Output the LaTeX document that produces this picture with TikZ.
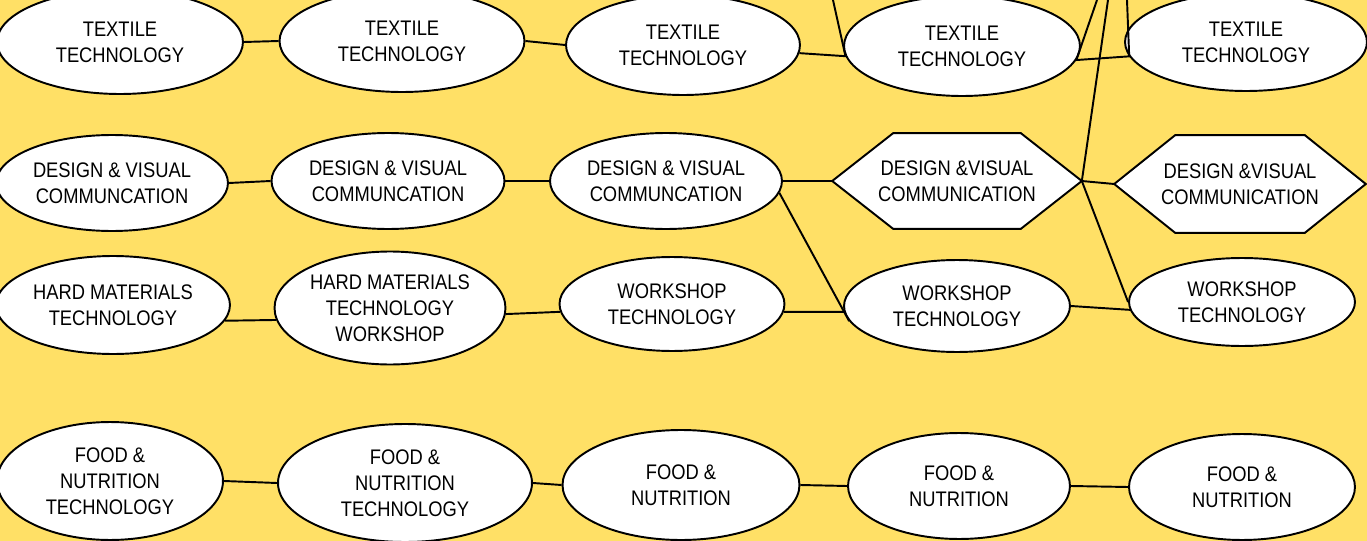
\documentclass[tikz,border=0pt]{standalone}
\usepackage{fontspec}
\setmainfont{Liberation Sans}[FakeStretch=0.87]
\usetikzlibrary{shapes.geometric}
\definecolor{pageyellow}{RGB}{255,224,102}
\pgfdeclarelayer{back}
\pgfsetlayers{back,main}

\begin{document}
\begin{tikzpicture}
	[x=0.02cm, y=-0.02cm,
	oval/.style={ellipse, draw=black, fill=white, line width=1.1pt, inner sep=0pt,
		minimum width=4.6cm, minimum height=1.9cm, align=center,
		font=\fontsize{12}{14.8}\selectfont},
	hexa/.style={rectangle, inner sep=0pt,
		minimum width=4.98cm, minimum height=1.9cm, align=center,
		font=\fontsize{12}{14.8}\selectfont},
	hexline/.style={draw=black, fill=white, line width=1.1pt, line join=miter},
	link/.style={black, line width=1.1pt}]

	% Page
	\useasboundingbox (0,0) rectangle (1367,541);
	\begin{pgfonlayer}{back}
		\fill[pageyellow] (0,0) rectangle (1367,541);
	\end{pgfonlayer}
	\clip (0,0) rectangle (1367,541);

	% Textile row
	\node[oval, minimum width=4.92cm, minimum height=2.08cm] (t1) at (120,42) {TEXTILE\\TECHNOLOGY};
	\node[oval, minimum width=4.9cm, minimum height=2.04cm] (t2) at (402,41) {TEXTILE\\TECHNOLOGY};
	\node[oval, minimum width=4.68cm, minimum height=2cm] (t3) at (683,45) {TEXTILE\\TECHNOLOGY};
	\node[oval, minimum width=4.72cm, minimum height=2cm] (t4) at (962,46) {TEXTILE\\TECHNOLOGY};
	\node[oval, minimum width=4.84cm, minimum height=1.96cm] (t5) at (1246,42) {TEXTILE\\TECHNOLOGY};

	% Design row
	\node[oval, minimum width=4.64cm, minimum height=1.92cm] (d1) at (112,183) {DESIGN \& VISUAL\\COMMUNCATION};
	\node[oval, minimum width=4.66cm, minimum height=1.92cm] (d2) at (388,181) {DESIGN \& VISUAL\\COMMUNCATION};
	\node[oval, minimum width=4.64cm, minimum height=1.92cm] (d3) at (666,181) {DESIGN \& VISUAL\\COMMUNCATION};
	\node[hexa] (h1) at (957,181) {DESIGN \&VISUAL\\COMMUNICATION};
	\node[hexa, minimum width=5.02cm, minimum height=1.94cm] (h2) at (1240,184) {DESIGN \&VISUAL\\COMMUNICATION};

	% Hexagon outlines behind their text
	\begin{pgfonlayer}{back}
		\foreach \h in {h1,h2}
			\draw[hexline] (\h.west) -- ([xshift=1.22cm]\h.north west) -- ([xshift=-1.22cm]\h.north east)
				-- (\h.east) -- ([xshift=-1.22cm]\h.south east) -- ([xshift=1.22cm]\h.south west) -- cycle;
	\end{pgfonlayer}

	% Hard materials / workshop row
	\node[oval, minimum width=4.68cm, minimum height=1.96cm] (m1) at (113,305) {HARD MATERIALS\\TECHNOLOGY};
	\node[oval, minimum width=4.62cm, minimum height=2.26cm] (m2) at (390,308) {HARD MATERIALS\\TECHNOLOGY\\WORKSHOP};
	\node[oval, minimum width=4.5cm, minimum height=1.88cm] (w3) at (672,304) {WORKSHOP\\TECHNOLOGY};
	\node[oval, minimum width=4.52cm, minimum height=1.84cm] (w4) at (957,306) {WORKSHOP\\TECHNOLOGY};
	\node[oval, minimum width=4.52cm, minimum height=1.76cm] (w5) at (1242,302) {WORKSHOP\\TECHNOLOGY};

	% Food row
	\node[oval, minimum width=4.52cm, minimum height=2.36cm] (f1) at (110,481) {FOOD \&\\NUTRITION\\TECHNOLOGY};
	\node[oval, minimum width=5.08cm, minimum height=2.36cm] (f2) at (405,483) {FOOD \&\\NUTRITION\\TECHNOLOGY};
	\node[oval, minimum width=4.74cm, minimum height=2.2cm] (f3) at (681,485) {FOOD \&\\NUTRITION};
	\node[oval, minimum width=4.44cm, minimum height=2.12cm] (f4) at (959,486) {FOOD \&\\NUTRITION};
	\node[oval, minimum width=4.52cm, minimum height=2.12cm] (f5) at (1242,487) {FOOD \&\\NUTRITION};

	% Free ends above the page
	\coordinate (t4top) at (833,0);
	\coordinate (t4rtop) at (1097,0);
	\coordinate (t5top) at (1127,0);
	\coordinate (h1top) at (1108,0);

	% Connectors
	\draw[link] (t1.east) -- (t2.west);
	\draw[link] (t2.east) -- (t3.west);
	\draw[link] (t3.-4) -- (t4.185) -- (t4top);
	\draw[link] (t4rtop) -- (t4.-7) -- (t5.187) -- (t5top);
	\draw[link] (h1top) -- (h1.east);

	\draw[link] (d1.east) -- (d2.west);
	\draw[link] (d2.east) -- (d3.west);
	\draw[link] (d3.east) -- (h1.west);
	\draw[link] (d3.-6) -- (w4.188);
	\draw[link] (h1.east) -- (h2.west);
	\draw[link] (h1.east) -- (w5.west);

	\draw[link] (m1.-8) -- (m2.186);
	\draw[link] (m2.-3) -- (w3.184);
	\draw[link] (w3.-4) -- (w4.183);
	\draw[link] (w4.east) -- (w5.-176);

	\draw[link] (f1.east) -- (f2.west);
	\draw[link] (f2.east) -- (f3.west);
	\draw[link] (f3.east) -- (f4.west);
	\draw[link] (f4.east) -- (f5.west);
\end{tikzpicture}
\end{document}
